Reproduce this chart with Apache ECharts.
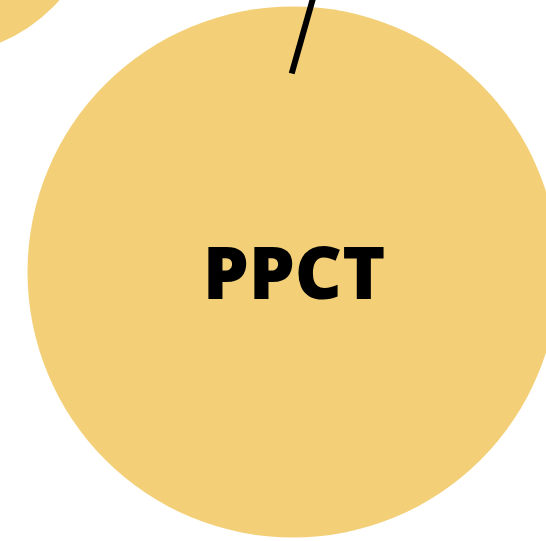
<!DOCTYPE html>
<html>
<head>
<meta charset="utf-8">
<script src="https://cdn.jsdelivr.net/npm/echarts@6/dist/echarts.min.js"></script>
<style>
  html, body { margin: 0; padding: 0; background: #fff; }
  #chart { width: 546px; height: 541px; }
</style>
</head>
<body>
<div id="chart"></div>
<script>
  // nodes of the diagram (only part of it is in view)
  const nodeNames = ['PPCT', 'node2'];
  const nodeX = [293, -62];
  const nodeY = [272, -107];
  const nodeSize = [531, 324];
  const nodeLabels = ['PPCT', ''];

  // edge coming in from above, ending inside the PPCT bubble
  const edgeX = [291.7, 346.5];
  const edgeY = [73.5, -120];

  const myChart = echarts.init(document.getElementById('chart'));
  const option = {
    animation: false,
    grid: { left: 0, right: 0, top: 0, bottom: 0 },
    xAxis: { type: 'value', min: 0, max: 546, show: false },
    yAxis: { type: 'value', min: 0, max: 541, inverse: true, show: false },
    series: [
      {
        type: 'scatter',
        clip: false,
        symbol: 'circle',
        data: nodeNames.map((n, i) => ({
          name: n,
          value: [nodeX[i], nodeY[i]],
          symbolSize: nodeSize[i],
          label: { formatter: nodeLabels[i] }
        })),
        itemStyle: { color: '#f3d078', opacity: 1 },
        label: {
          show: true,
          position: 'inside',
          offset: [1, 6],
          color: '#000',
          fontFamily: 'Open Sans',
          fontWeight: 800,
          fontSize: 73
        },
        z: 2
      },
      {
        type: 'line',
        clip: false,
        showSymbol: false,
        data: edgeX.map((x, i) => [x, edgeY[i]]),
        lineStyle: { color: '#000', width: 6, cap: 'butt' },
        z: 5
      }
    ]
  };
  option && myChart.setOption(option);
</script>
</body>
</html>
